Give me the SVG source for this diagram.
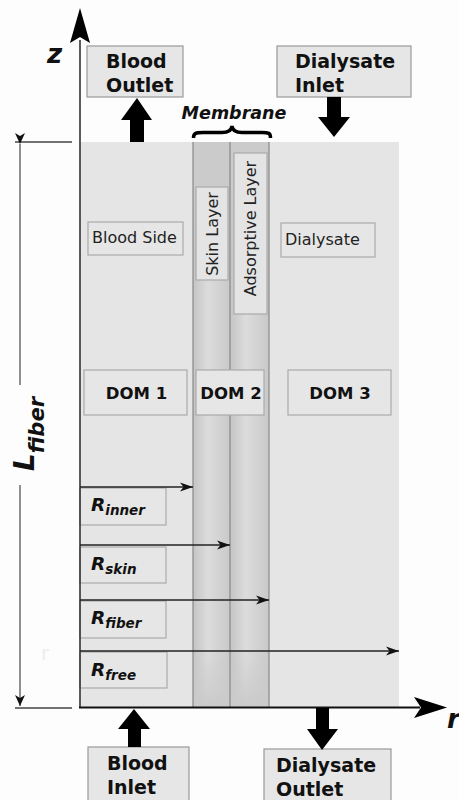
<svg xmlns="http://www.w3.org/2000/svg" width="459" height="800" viewBox="0 0 459 800">
<style>
.bt{font-family:"DejaVu Sans","Liberation Sans",sans-serif;font-weight:bold;fill:#111}
.rt{font-family:"DejaVu Sans","Liberation Sans",sans-serif;fill:#222;font-size:16px}
.bi{font-family:"DejaVu Sans","Liberation Sans",sans-serif;font-weight:bold;font-style:italic;fill:#111}
.box{fill:#e6e6e6;stroke:#999;stroke-width:1.2}
.lbox{fill:#e6e6e6;stroke:#aaa;stroke-width:1.2}
.col{stroke:#888;stroke-width:1.2}
.rarr{stroke:#222;stroke-width:1.3;fill:none;marker-end:url(#ah)}
.blk{fill:#000}
</style>
<defs>
<marker id="ah" markerUnits="userSpaceOnUse" markerWidth="14" markerHeight="10" refX="13" refY="5" orient="auto">
<path d="M0,0.5 L13,5 L0,9.5 L3.5,5 z" fill="#111"/>
</marker>
<marker id="dh" markerUnits="userSpaceOnUse" markerWidth="12" markerHeight="12" refX="11" refY="6" orient="auto">
<path d="M0,1 L11,6 L0,11 L3,6 z" fill="#111"/>
</marker>
<linearGradient id="colg" x1="0" y1="0" x2="1" y2="0">
<stop offset="0" stop-color="#c4c4c4"/>
<stop offset="0.4" stop-color="#dcdcdc"/>
<stop offset="1" stop-color="#c9c9c9"/>
</linearGradient>
<linearGradient id="vfade" x1="0" y1="0" x2="0" y2="1">
<stop offset="0" stop-color="#000"/>
<stop offset="0.09" stop-color="#000"/>
<stop offset="0.2" stop-color="#fff"/>
<stop offset="0.9" stop-color="#fff"/>
<stop offset="1" stop-color="#000"/>
</linearGradient>
<mask id="vm" maskUnits="userSpaceOnUse" x="190" y="140" width="85" height="570">
<rect x="190" y="142" width="85" height="566" fill="url(#vfade)"/>
</mask>
</defs>
<rect width="459" height="800" fill="#fdfdfd"/>

<g id="fiber">
<rect x="80" y="142" width="319" height="566" fill="#e5e5e5"/>
<rect x="193" y="142" width="76" height="566" fill="#cbcbcb"/>
<g mask="url(#vm)">
<rect x="193" y="142" width="37" height="566" fill="url(#colg)"/>
<rect x="230" y="142" width="39" height="566" fill="url(#colg)"/>
</g>
<line class="col" x1="193" y1="142" x2="193" y2="708"/>
<line class="col" x1="230" y1="142" x2="230" y2="708"/>
<line class="col" x1="269" y1="142" x2="269" y2="708"/>
</g>

<g id="blood-side">
<rect class="lbox" x="88" y="222" width="95" height="33"/>
<text class="rt" x="92" y="243">Blood Side</text>
</g>
<g id="dialysate">
<rect class="lbox" x="281" y="223" width="94" height="34"/>
<text class="rt" x="285" y="245">Dialysate</text>
</g>
<g id="skin-layer">
<rect x="196" y="187" width="32" height="93" fill="#e4e4e4" stroke="#aaa" stroke-width="1.2"/>
<text class="rt" transform="translate(218,234) rotate(-90)" text-anchor="middle">Skin Layer</text>
</g>
<g id="adsorptive-layer">
<rect x="234" y="153" width="33" height="161" fill="#e4e4e4" stroke="#aaa" stroke-width="1.2"/>
<text class="rt" transform="translate(255.5,228.5) rotate(-90)" text-anchor="middle">Adsorptive Layer</text>
</g>

<g id="dom1">
<rect class="lbox" x="84" y="370" width="103" height="45"/>
<text class="bt" x="136.5" y="399" font-size="16.5" text-anchor="middle">DOM 1</text>
</g>
<g id="dom2">
<rect class="lbox" x="196" y="370" width="68" height="45"/>
<text class="bt" x="231" y="399" font-size="16.5" text-anchor="middle">DOM 2</text>
</g>
<g id="dom3">
<rect class="lbox" x="288" y="370" width="103" height="45"/>
<text class="bt" x="340" y="399" font-size="16.5" text-anchor="middle">DOM 3</text>
</g>

<g id="r-inner">
<rect class="lbox" x="80" y="488" width="86" height="37"/>
<text class="bi" x="91" y="511" font-size="18.5">R<tspan font-size="13.5" dy="4">inner</tspan></text>
</g>
<g id="r-skin">
<rect class="lbox" x="80" y="547" width="86" height="36"/>
<text class="bi" x="91" y="570" font-size="18.5">R<tspan font-size="13.5" dy="3.5">skin</tspan></text>
</g>
<g id="r-fiber">
<rect class="lbox" x="80" y="601" width="86" height="37"/>
<text class="bi" x="91" y="624" font-size="18.5">R<tspan font-size="13.5" dy="3.5">fiber</tspan></text>
</g>
<g id="r-free">
<rect class="lbox" x="80" y="652" width="87" height="36"/>
<text class="bi" x="91" y="676" font-size="18.5">R<tspan font-size="13.5" dy="3.5">free</tspan></text>
</g>

<g id="blood-outlet">
<rect class="box" x="87" y="46" width="96" height="51"/>
<text class="bt" x="106" y="68" font-size="19">Blood</text>
<text class="bt" x="106" y="92" font-size="19">Outlet</text>
</g>
<g id="dialysate-inlet">
<rect class="box" x="277" y="46" width="134" height="51"/>
<text class="bt" x="295" y="68" font-size="19">Dialysate</text>
<text class="bt" x="295" y="92" font-size="19">Inlet</text>
</g>
<g id="blood-inlet">
<rect class="box" x="88" y="747" width="101" height="60"/>
<text class="bt" x="107" y="770" font-size="19">Blood</text>
<text class="bt" x="107" y="794" font-size="19">Inlet</text>
</g>
<g id="dialysate-outlet">
<rect class="box" x="264" y="749" width="127" height="60"/>
<text class="bt" x="276" y="772" font-size="19">Dialysate</text>
<text class="bt" x="276" y="796" font-size="19">Outlet</text>
</g>

<g id="membrane">
<text class="bi" x="234" y="119" font-size="17.5" text-anchor="middle">Membrane</text>
<path d="M193.5,138 C193.5,133 196,132.5 203,132.5 L222,132.5 C228,132.5 231.5,130.5 232,126 C232.5,130.5 236,132.5 242,132.5 L262,132.5 C269,132.5 270.5,133 270.5,138" fill="none" stroke="#000" stroke-width="3.5"/>
</g>

<g id="axes">
<line x1="80" y1="40" x2="80" y2="708" stroke="#333" stroke-width="1.6"/>
<path d="M80,8 L90,43 L80,37 L70,43 z" fill="#000"/>
<text class="bi" x="47" y="63" font-size="26">z</text>
<line x1="79" y1="707.5" x2="420" y2="707.5" stroke="#111" stroke-width="2"/>
<path d="M447,707.5 L414,697 L421,707.5 L414,718 z" fill="#000"/>
<text class="bi" x="447" y="728" font-size="26">r</text>
<text x="41" y="660" font-family="DejaVu Sans, sans-serif" font-size="20" fill="#eeeeee">r</text>
</g>

<g id="connectors">
<line class="rarr" x1="80" y1="487" x2="193" y2="487"/>
<line class="rarr" x1="80" y1="545" x2="230" y2="545"/>
<line class="rarr" x1="80" y1="600" x2="269" y2="600"/>
<line class="rarr" x1="80" y1="651" x2="399" y2="651"/>
<path class="blk" d="M137,98 L152,120 L144,120 L144,142 L130,142 L130,120 L121,120 z"/>
<path class="blk" d="M334,137 L350,117 L341,117 L341,97 L327,97 L327,117 L318,117 z"/>
<path class="blk" d="M134,709 L150,729 L141,729 L141,747 L128,747 L128,729 L118,729 z"/>
<path class="blk" d="M322,750 L338,729 L329,729 L329,708 L316,708 L316,729 L307,729 z"/>
</g>

<g id="l-fiber">
<line x1="15" y1="142" x2="72" y2="142" stroke="#444" stroke-width="1.3"/>
<line x1="15" y1="708" x2="72" y2="708" stroke="#444" stroke-width="1.3"/>
<line x1="20" y1="144" x2="20" y2="385" stroke="#555" stroke-width="1.3" marker-start="url(#dh)"/>
<line x1="20" y1="485" x2="20" y2="706" stroke="#555" stroke-width="1.3" marker-end="url(#dh)"/>
<text class="bi" transform="translate(34,471) rotate(-90)" font-size="28">L<tspan font-size="21" dy="10">fiber</tspan></text>
</g>
</svg>
